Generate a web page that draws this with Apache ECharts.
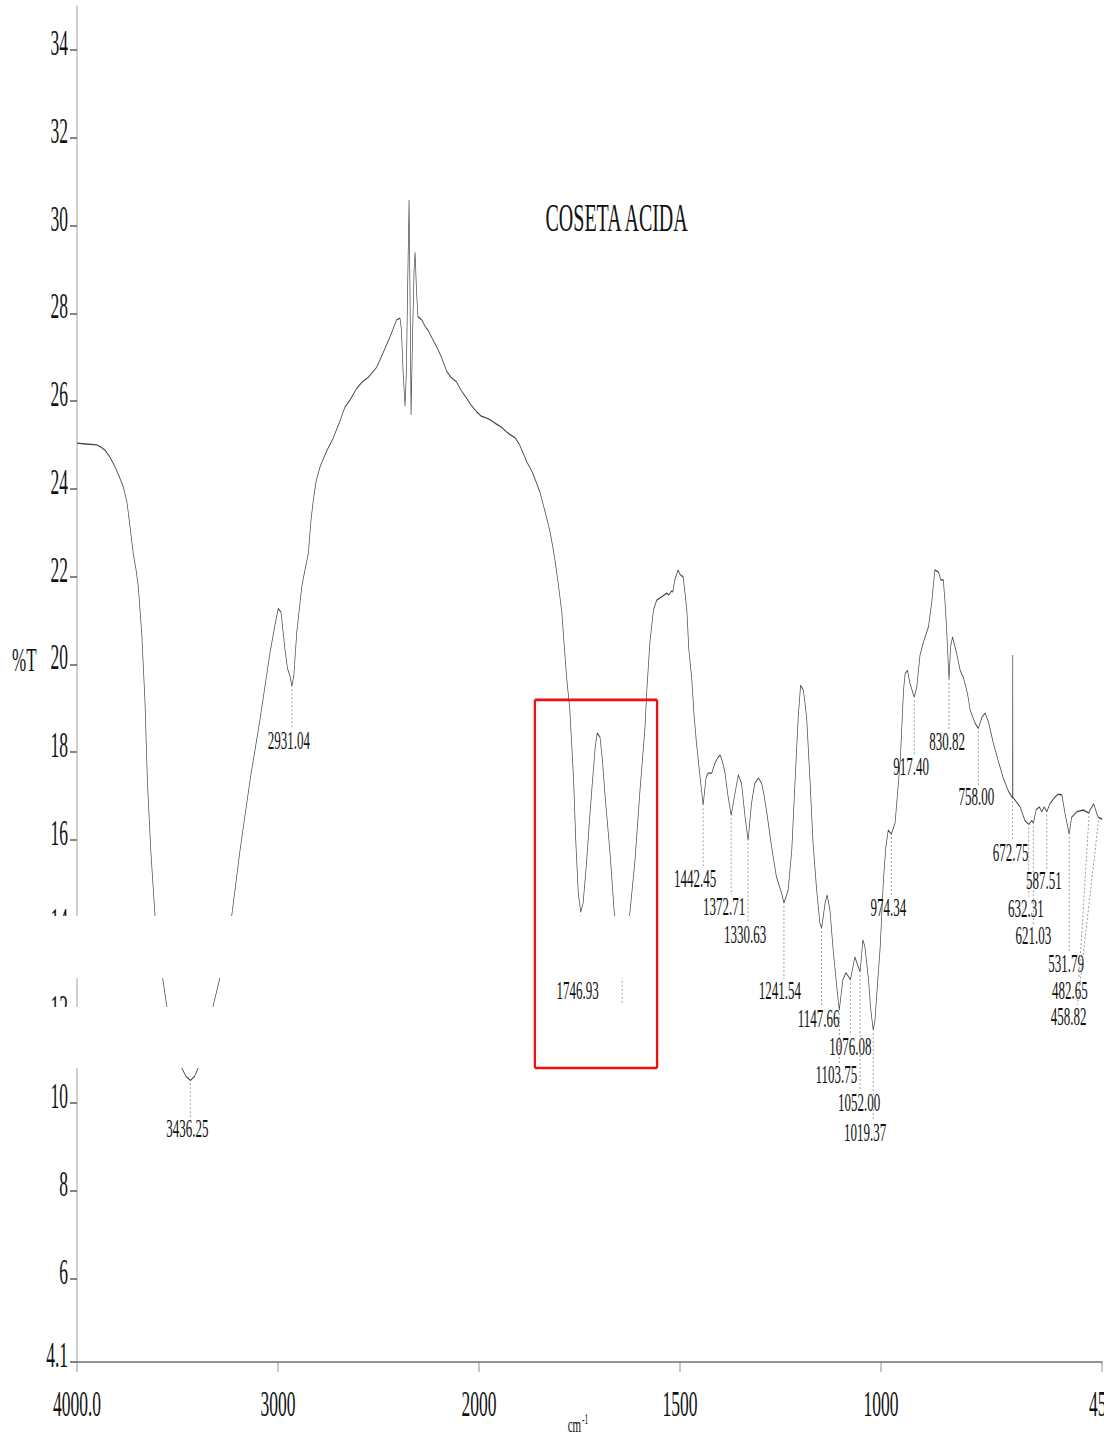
<!DOCTYPE html>
<html>
<head>
<meta charset="utf-8">
<script src="https://cdn.jsdelivr.net/npm/echarts@6/dist/echarts.min.js"></script>
<style>
  html, body { margin: 0; padding: 0; background: #fff; width: 1104px; height: 1437px; overflow: hidden; }
  #wrap { width: 1104px; height: 1437px; overflow: hidden; position: relative; }
  /* the spectrum is laid out on a double-width sheet and squeezed horizontally */
  #chart { width: 2208px; height: 1437px; transform: scaleX(0.5); transform-origin: 0 0; }
</style>
</head>
<body>
<div id="wrap"><div id="chart"></div></div>
<script>
// IR spectrum of "COSETA ACIDA": wavenumber (cm-1) and transmittance (%T)
const waveNumber = [
  4000, 3955, 3902, 3881, 3861, 3836, 3811, 3791, 3770, 3751, 3736, 3720, 3706, 3695, 3678, 3662, 3650, 3633, 3612, 3574,
  3554, 3517, 3479, 3458, 3436, 3415, 3397, 3358, 3322, 3289, 3230, 3189, 3139, 3090, 3040, 3015, 2999, 2985, 2965, 2953,
  2940, 2931, 2921, 2907, 2882, 2866, 2849, 2836, 2824, 2811, 2791, 2758, 2725, 2692, 2667, 2642, 2608, 2582, 2551, 2509,
  2478, 2443, 2410, 2393, 2386, 2378, 2368, 2361, 2356, 2348, 2343, 2338, 2331, 2323, 2318, 2311, 2304, 2285, 2269, 2252,
  2229, 2210, 2189, 2161, 2139, 2111, 2090, 2061, 2040, 2011, 1995, 1981, 1970, 1956, 1945, 1931, 1920, 1910, 1900, 1890,
  1881, 1869, 1858, 1848, 1840, 1832, 1823, 1815, 1811, 1803, 1794, 1789, 1782, 1774, 1765, 1759, 1753, 1746.93, 1741, 1732,
  1726, 1720, 1711, 1706, 1699, 1693, 1687, 1674, 1664, 1654, 1644, 1634, 1624, 1612, 1600, 1587, 1583, 1575, 1566, 1558,
  1547, 1533, 1528, 1521, 1518, 1513, 1505, 1500, 1492, 1483, 1478, 1471, 1465, 1459, 1450, 1442.45, 1435, 1430, 1421, 1413,
  1405, 1400, 1394, 1388, 1381, 1372.71, 1363, 1355, 1347, 1338, 1330.63, 1322, 1314, 1305, 1297, 1291, 1285, 1272, 1260, 1247,
  1241.54, 1231, 1222, 1214, 1206, 1200, 1193, 1185, 1177, 1169, 1160, 1152, 1147.66, 1139, 1134, 1127, 1119, 1110, 1103.75, 1095,
  1087, 1076.08, 1065, 1052, 1045, 1040, 1031, 1026, 1019.37, 1015, 1011, 1002, 994, 988, 982, 974.34, 965, 952, 944, 940,
  934, 928, 917.4, 911, 903, 895, 882, 874, 866, 857, 851, 845, 841, 837, 830.82, 827, 822, 812, 803, 795,
  785, 778, 766, 758, 749, 741, 733, 720, 708, 696, 683, 672.75, 672.3, 671.9, 667, 654, 642, 632.31, 625, 621.03,
  614, 606, 600, 594, 587.51, 580, 567, 559, 550, 542, 531.79, 526, 513, 505, 497, 489, 482.65, 480, 471, 463,
  458.82, 450
];
const transmittance = [
  25.04, 25.02, 25.00, 24.95, 24.88, 24.72, 24.50, 24.29, 24.05, 23.68, 23.13, 22.52, 22.15, 21.77, 20.71, 19.18, 17.36, 15.76, 14.28, 12.85,
  12.23, 11.43, 10.80, 10.61, 10.52, 10.61, 10.80, 11.43, 12.23, 12.85, 14.28, 15.76, 17.36, 18.73, 20.26, 20.90, 21.27, 21.19, 20.33, 19.91,
  19.73, 19.50, 19.75, 20.71, 21.76, 22.15, 22.53, 23.28, 23.75, 24.16, 24.50, 24.86, 25.16, 25.54, 25.86, 26.02, 26.29, 26.43, 26.54, 26.77,
  27.09, 27.46, 27.85, 27.89, 27.62, 26.70, 25.88, 26.70, 28.30, 30.58, 28.30, 25.68, 27.39, 28.98, 29.39, 28.53, 27.92, 27.85, 27.71, 27.60,
  27.39, 27.23, 27.02, 26.68, 26.54, 26.43, 26.25, 26.06, 25.91, 25.75, 25.66, 25.61, 25.56, 25.47, 25.41, 25.29, 25.22, 25.16, 25.02, 24.81,
  24.61, 24.41, 24.16, 23.91, 23.63, 23.35, 23.01, 22.60, 22.37, 21.85, 21.19, 20.55, 19.70, 18.95, 17.43, 15.92, 14.78, 14.35, 14.56, 15.53,
  16.33, 17.07, 18.11, 18.43, 18.34, 17.82, 17.07, 15.69, 14.40, 13.60, 13.31, 13.60, 14.40, 15.53, 17.07, 18.57, 19.34, 20.49, 21.24, 21.46,
  21.53, 21.62, 21.58, 21.67, 21.65, 21.92, 22.15, 22.05, 21.99, 21.24, 20.33, 19.70, 18.84, 18.20, 17.43, 16.79, 17.43, 17.52, 17.52, 17.75,
  17.89, 17.93, 17.77, 17.52, 17.02, 16.56, 17.07, 17.48, 17.29, 16.51, 15.99, 16.84, 17.29, 17.41, 17.29, 17.02, 16.68, 15.83, 15.15, 14.78,
  14.56, 14.85, 15.76, 17.29, 18.79, 19.52, 19.41, 18.79, 17.43, 15.92, 14.85, 14.10, 13.99, 14.56, 14.74, 14.40, 13.49, 12.65, 12.12, 12.81,
  12.97, 12.81, 13.33, 12.99, 13.72, 13.56, 12.81, 12.18, 11.66, 11.89, 12.41, 13.56, 15.08, 15.83, 16.22, 16.13, 16.38, 17.82, 19.41, 19.79,
  19.86, 19.57, 19.25, 19.48, 20.21, 20.49, 20.85, 21.40, 22.15, 22.10, 21.92, 21.92, 21.46, 20.85, 19.64, 20.40, 20.62, 20.26, 19.86, 19.70,
  19.34, 18.95, 18.66, 18.54, 18.79, 18.89, 18.70, 18.18, 17.79, 17.41, 17.11, 16.95, 20.21, 16.97, 16.91, 16.75, 16.44, 16.35, 16.44, 16.38,
  16.68, 16.75, 16.64, 16.75, 16.64, 16.82, 16.98, 17.04, 17.02, 16.59, 16.13, 16.51, 16.64, 16.66, 16.68, 16.64, 16.61, 16.68, 16.82, 16.59,
  16.51, 16.47
];

// picked peaks: position, printed value
const peakWave = [3436.25, 2931.04, 1746.93, 1644, 1442.45, 1372.71, 1330.63, 1241.54, 1147.66, 1103.75, 1076.08, 1052.00,
  1019.37, 974.34, 917.40, 830.82, 758.00, 672.75, 632.31, 621.03, 587.51, 531.79, 482.65, 458.82];
const peakText = ['3436.25', '2931.04', '1746.93', '', '1442.45', '1372.71', '1330.63', '1241.54', '1147.66', '1103.75', '1076.08', '1052.00',
  '1019.37', '974.34', '917.40', '830.82', '758.00', '672.75', '632.31', '621.03', '587.51', '531.79', '482.65', '458.82'];
// label placement: %T level of each printed value and its sideways nudge (px)
const peakLabelLevel = [9.43, 18.28, 12.58, 12.03, 15.13, 14.49, 13.85, 12.58, 11.94, 10.66, 11.30, 10.03,
  9.34, 14.47, 17.68, 18.25, 17.00, 15.72, 14.45, 13.83, 15.08, 13.19, 12.58, 11.99];
const peakLabelShift = [-3, -3, -3, 0, -8, -7, -3, -4, -3, -3, 0, -1, -8, -3, -3, -2, -2, -2, -3, 0, -3, -3, -19, -30];

// axis ticks
const xTickWave = [4000, 3000, 2000, 1500, 1000, 450];
const xTickText = ['4000.0', '3000', '2000', '1500', '1000', '450'];
const yTickValues = [4.1, 6, 8, 10, 12, 14, 16, 18, 20, 22, 24, 26, 28, 30, 32, 34];

// highlighted region around the carbonyl bands
const boxWave = [1861, 1557];
const boxLevel = [19.19, 10.80];

const SQUEEZE = 2;          // sheet is twice as wide as the page
const FONT = '"Liberation Serif", "Times New Roman", serif';

// the abscissa doubles its scale below 2000 cm-1
function toAxis(w) { return w >= 2000 ? (4000 - w) / 1000 : 2 + (2000 - w) / 500; }
function curveAt(w) {
  for (let i = 0; i < waveNumber.length - 1; i++) {
    const a = waveNumber[i], b = waveNumber[i + 1];
    if (w <= a && w >= b) {
      const t = (a - w) / (a - b);
      return transmittance[i] + t * (transmittance[i + 1] - transmittance[i]);
    }
  }
  return transmittance[transmittance.length - 1];
}

const xTickPos = xTickWave.map(toAxis);
const trace = waveNumber.map((w, i) => [toAxis(w), transmittance[i]]);
const peaks = peakWave.map((w, i) => [toAxis(w), curveAt(w), peakLabelLevel[i], i]);

const chart = echarts.init(document.getElementById('chart'), null, { renderer: 'svg', width: 2208, height: 1437 });

chart.setOption({
  animation: false,
  backgroundColor: '#fff',
  title: {
    text: 'COSETA ACIDA',
    left: 1086, top: 193,
    textStyle: { fontFamily: FONT, fontSize: 40, fontWeight: 'normal', color: '#111' }
  },
  grid: { left: 154, right: 3.8, top: 6.1, bottom: 75, containLabel: false, outerBoundsMode: 'none' },
  xAxis: {
    type: 'value', min: 0, max: toAxis(450),
    axisLine: { show: true, lineStyle: { color: '#6f6f6f', width: 1.6 } },
    axisTick: { show: true, customValues: xTickPos, length: 10, lineStyle: { color: '#777', width: 1.6 } },
    axisLabel: {
      customValues: xTickPos, margin: 24,
      fontFamily: FONT, fontSize: 35, color: '#111',
      formatter: v => {
        let k = 0, d = Infinity;
        xTickPos.forEach((p, i) => { if (Math.abs(p - v) < d) { d = Math.abs(p - v); k = i; } });
        return xTickText[k];
      }
    },
    splitLine: { show: false }
  },
  yAxis: {
    type: 'value', min: 4.1, max: 35,
    axisLine: { show: true, lineStyle: { color: '#8a8a8a', width: 1.6 } },
    axisTick: { show: true, customValues: yTickValues, length: 14, lineStyle: { color: '#666', width: 1.6 } },
    axisLabel: {
      customValues: yTickValues, margin: 18,
      fontFamily: FONT, fontSize: 35, color: '#111',
      verticalAlign: 'bottom', lineHeight: 14,
      formatter: v => String(Math.round(v * 10) / 10)
    },
    splitLine: { show: false }
  },
  series: [
    {
      type: 'line',
      data: trace,
      showSymbol: false,
      smooth: false,
      lineStyle: { color: '#474747', width: 1.4 },
      z: 3
    },
    {
      type: 'custom',
      coordinateSystem: 'cartesian2d',
      data: peaks,
      encode: { x: 0, y: 1 },
      z: 4,
      renderItem: (params, api) => {
        const i = api.value(3);
        const top = api.coord([api.value(0), api.value(1)]);
        const lab = api.coord([api.value(0), api.value(2)]);
        const shift = peakLabelShift[i] * SQUEEZE;
        const tx = top[0] + shift;
        const slanted = Math.abs(peakLabelShift[i]) > 10;
        const bx = slanted ? tx + 9 * SQUEEZE : top[0];
        const children = [{
          type: 'line',
          shape: { x1: top[0], y1: top[1] + 3, x2: bx, y2: lab[1] - 11 },
          style: { stroke: '#959595', lineWidth: 1.8, lineDash: [2, 2] }
        }];
        if (peakText[i]) {
          children.push({
            type: 'text', x: tx, y: lab[1],
            style: { text: peakText[i], font: '26px ' + FONT, fill: '#111', align: 'center', verticalAlign: 'middle' }
          });
        }
        return { type: 'group', children };
      }
    }
  ]
});

// gaps in the printout, then the red frame drawn over them
const p1 = chart.convertToPixel({ gridIndex: 0 }, [toAxis(boxWave[0]), boxLevel[0]]);
const p2 = chart.convertToPixel({ gridIndex: 0 }, [toAxis(boxWave[1]), boxLevel[1]]);
chart.setOption({
  graphic: [
    { type: 'rect', z: 100, shape: { x: 0, y: 916, width: 1324, height: 62 }, style: { fill: '#fff' } },
    { type: 'rect', z: 100, shape: { x: 0, y: 1007, width: 1324, height: 61 }, style: { fill: '#fff' } },
    { type: 'text', z: 100, x: 24, y: 660,
      style: { text: '%T', font: '34px ' + FONT, fill: '#111', verticalAlign: 'middle' } },
    { type: 'text', z: 100, x: 1156, y: 1440,
      style: { text: '{a|cm}{b|-1}', verticalAlign: 'bottom', align: 'center',
        rich: { a: { font: '22px ' + FONT, fill: '#111' }, b: { font: '15px ' + FONT, fill: '#111', padding: [0, 0, 14, 2] } } } },
    { type: 'line', z: 110, shape: { x1: p1[0], y1: p1[1], x2: p2[0], y2: p1[1] }, style: { stroke: '#f01010', lineWidth: 2.6 } },
    { type: 'line', z: 110, shape: { x1: p1[0], y1: p2[1], x2: p2[0], y2: p2[1] }, style: { stroke: '#f01010', lineWidth: 2.6 } },
    { type: 'line', z: 110, shape: { x1: p1[0], y1: p1[1], x2: p1[0], y2: p2[1] }, style: { stroke: '#f01010', lineWidth: 4.6 } },
    { type: 'line', z: 110, shape: { x1: p2[0], y1: p1[1], x2: p2[0], y2: p2[1] }, style: { stroke: '#f01010', lineWidth: 4.6 } }
  ]
});
</script>
</body>
</html>
